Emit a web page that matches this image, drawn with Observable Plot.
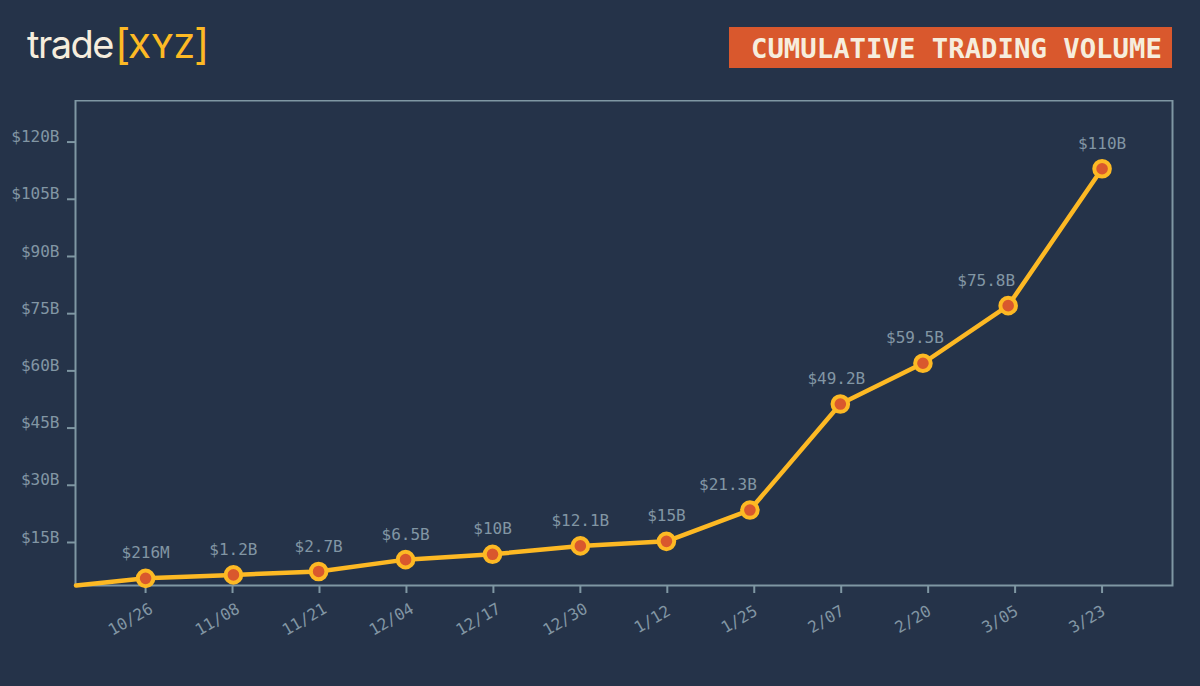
<!DOCTYPE html>
<html>
<head>
<meta charset="utf-8">
<script src="https://cdn.jsdelivr.net/npm/d3@7"></script>
<script src="https://cdn.jsdelivr.net/npm/@observablehq/plot@0.6"></script>
<style>
  html, body { margin: 0; padding: 0; background: #253349; }
  body { width: 1200px; height: 686px; overflow: hidden; }
  #header { position: relative; height: 100px; width: 1200px; }
  #logo { position: absolute; left: 27px; top: 17px; line-height: 52px; white-space: nowrap; font-family: Inter, sans-serif; }
  #logo .trade { font-size: 38px; font-weight: 400; color: #f6eddd; letter-spacing: -1.5px; }
  #logo .xyz { font-size: 32px; font-weight: 500; color: #fdb924; letter-spacing: 0.5px; margin-left: -2px; }
  #logo .br { font-size: 42px; font-weight: 400; color: #fdb924; position: relative; top: 1px; }
  #title { position: absolute; left: 729px; top: 27px; width: 443px; height: 41px; box-sizing: border-box; background: #d9582d; color: #f6eddd; font: bold 27.3px/43px "DejaVu Sans Mono", monospace; padding-left: 22px; white-space: nowrap; }
  svg { display: block; }
</style>
</head>
<body>
<div id="header">
  <div id="logo"><span class="trade">trade</span><span class="br" style="margin-left:2px">[</span><span class="xyz">XYZ</span><span class="br" style="margin-left:-1px">]</span></div>
  <div id="title">CUMULATIVE TRADING VOLUME</div>
</div>
<div id="chart"></div>
<script>
const dates = ["10/26","11/08","11/21","12/04","12/17","12/30","1/12","1/25","2/07","2/20","3/05","3/23"];
const tickSlots = [0,1,2,3,4,5,6,7,8,9,10,11];
const slots = [0,1.01,1.99,2.99,3.99,5,5.99,6.95,7.99,8.94,9.92,11];
const plotted = [5.6,6.5,7.4,10.5,11.9,14.1,15.3,23.5,51.3,62,77.1,113];
const labels = ["$216M","$1.2B","$2.7B","$6.5B","$10B","$12.1B","$15B","$21.3B","$49.2B","$59.5B","$75.8B","$110B"];
const yTicks = [15,30,45,60,75,90,105,120];
const lineStart = {slot: -0.8, value: 3.72};

const muted = "#8296a4";
const frameColor = "#7f97a3";
const gold = "#fdb924";
const orange = "#d9582d";
const mono = "'DejaVu Sans Mono', monospace";

const points = dates.map((d, i) => ({slot: slots[i], value: plotted[i], label: labels[i]}));
const lineData = [lineStart, ...points];
const shifted = {"$21.3B": -22, "$49.2B": -4, "$59.5B": -8, "$75.8B": -22};

const chart = Plot.plot({
  width: 1200,
  height: 586,
  marginLeft: 75,
  marginRight: 28,
  marginTop: 0,
  marginBottom: 101,
  style: {background: "transparent", fontFamily: mono},
  x: {type: "linear", domain: [-0.806, 11.81], axis: null},
  y: {type: "linear", domain: [3.72, 130.9], axis: null},
  marks: [
    Plot.axisY(yTicks, {tickSize: 8, stroke: frameColor, strokeWidth: 2, fill: "none", label: null}),
    Plot.axisY(yTicks, {
      tickSize: 0, tickPadding: 16, fill: muted, fontSize: 16, dy: -5,
      tickFormat: d => `$${d}B`, label: null
    }),
    Plot.axisX(tickSlots, {tickSize: 8, stroke: frameColor, strokeWidth: 2, fill: "none", label: null}),
    Plot.axisX(tickSlots, {
      tickSize: 0, tickPadding: 34, fill: muted, fontSize: 16, tickRotate: -30, textAnchor: "middle", dx: -15,
      tickFormat: i => dates[i], label: null
    }),
    Plot.frame({stroke: frameColor, strokeWidth: 2}),
    Plot.line(lineData, {x: "slot", y: "value", stroke: gold, strokeWidth: 4.5}),
    Plot.dot(points, {x: "slot", y: "value", r: 7.8, fill: orange, stroke: gold, strokeWidth: 4}),
    Plot.text(points.filter(p => !(p.label in shifted)), {
      x: "slot", y: "value", text: "label", dy: -25, fill: muted, fontSize: 16
    }),
    ...Object.entries(shifted).map(([label, dx]) =>
      Plot.text(points.filter(p => p.label === label), {
        x: "slot", y: "value", text: "label", dx, dy: -25, fill: muted, fontSize: 16
      }))
  ]
});
document.getElementById("chart").append(chart);
</script>
</body>
</html>
